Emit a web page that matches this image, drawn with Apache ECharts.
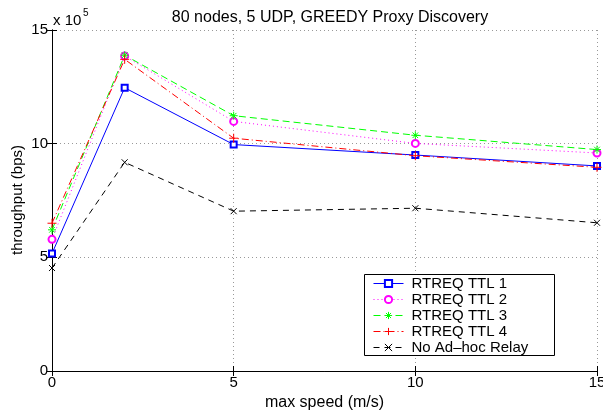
<!DOCTYPE html>
<html>
<head>
<meta charset="utf-8">
<script src="https://cdn.jsdelivr.net/npm/echarts@6/dist/echarts.min.js"></script>
<style>html,body{margin:0;padding:0;background:#fff}#c{width:603px;height:410px}</style>
</head>
<body>
<div id="c"></div>
<script>
// max speed (m/s)
var speeds = [0, 2, 5, 10, 15];
// throughput values in units of 1e5 bps
var ttl1 = [5.17, 12.46, 9.96, 9.50, 9.02];
var ttl2 = [5.79, 13.86, 10.98, 10.01, 9.59];
var ttl3 = [6.21, 13.89, 11.23, 10.37, 9.74];
var ttl4 = [6.50, 13.71, 10.24, 9.47, 8.96];
var noRelay = [4.53, 9.18, 7.03, 7.16, 6.52];
var seriesNames = ['RTREQ TTL 1', 'RTREQ TTL 2', 'RTREQ TTL 3', 'RTREQ TTL 4', 'No Ad\u2013hoc Relay'];
var yTicks = [0, 5, 10, 15];
var xTicks = [0, 5, 10, 15];

function pairs(vals) { return speeds.map(function (s, i) { return [s, vals[i]]; }); }
var FONT = 'Liberation Sans, Arial, Helvetica, sans-serif';

function mk(name, vals, color, ltype, symbol, size) {
  return {
    name: name, type: 'line', data: pairs(vals),
    xAxisIndex: 0, yAxisIndex: 0,
    symbol: symbol, symbolSize: size, showSymbol: true,
    lineStyle: { color: color, width: 1, type: ltype },
    itemStyle: { color: color, borderColor: color, borderWidth: 1 },
    emphasis: { disabled: true },
    animation: false, z: 3
  };
}

var axisCommonX = {
  type: 'value', min: 0, max: 15, interval: 5,
  axisLine: { show: true, lineStyle: { color: '#000', width: 1 } },
  axisTick: { show: true, inside: true, length: 5, lineStyle: { color: '#000' } }
};

var chart = echarts.init(document.getElementById('c'), null, { renderer: 'canvas' });
chart.setOption({
  backgroundColor: '#fff',
  animation: false,
  title: {
    text: '80 nodes, 5 UDP, GREEDY Proxy Discovery',
    left: 325, top: 5, textAlign: 'center',
    textStyle: { fontFamily: FONT, fontSize: 16, fontWeight: 'normal', color: '#000' }
  },
  grid: { left: 52, right: 6, top: 30, bottom: 39, containLabel: false, outerBoundsMode: 'none' },
  xAxis: [
    Object.assign({}, axisCommonX, {
      position: 'bottom',
      name: 'max speed (m/s)', nameLocation: 'middle', nameGap: 16,
      nameTextStyle: { fontFamily: FONT, fontSize: 16, color: '#000' },
      axisLabel: { fontFamily: FONT, fontSize: 15, color: '#000', margin: 4 },
      splitLine: { show: true, lineStyle: { color: '#999', type: [1, 3], width: 1 } }
    }),
    Object.assign({}, axisCommonX, {
      position: 'top', axisLabel: { show: false }, splitLine: { show: false }
    })
  ],
  yAxis: [
    {
      type: 'value', min: 0, max: 15, interval: 5, position: 'left',
      axisLine: { show: true, lineStyle: { color: '#000', width: 1 } },
      axisTick: { show: true, inside: true, length: 5, lineStyle: { color: '#000' } },
      axisLabel: { fontFamily: FONT, fontSize: 15, color: '#000', margin: 4,
        formatter: function (v) { return yTicks.indexOf(v) >= 0 ? String(v) : ''; } },
      splitLine: { show: true, lineStyle: { color: '#999', type: [1, 3], width: 1 } }
    },
    {
      type: 'value', min: 0, max: 15, interval: 5, position: 'right',
      axisLine: { show: true, lineStyle: { color: '#000', width: 1 } },
      axisTick: { show: true, inside: true, length: 5, lineStyle: { color: '#000' } },
      axisLabel: { show: false }, splitLine: { show: false }
    }
  ],
  legend: {
    orient: 'vertical', left: 373, top: 276, z: 10,
    itemWidth: 30, itemHeight: 9, itemGap: 1,
    padding: 0,
    lineStyle: { width: 1 },
    itemStyle: { borderWidth: 1 },
    textStyle: { fontFamily: FONT, fontSize: 15, lineHeight: 14, color: '#000', padding: [0, 0, 0, 3] },
    data: seriesNames
  },
  graphic: [
    { type: 'rect', z: 8, shape: { x: 364.5, y: 274.5, width: 190, height: 81 },
      style: { fill: '#fff', stroke: '#000', lineWidth: 1 } },
    { type: 'text', z: 8, left: 53, top: 13,
      style: { text: 'x 10', fontFamily: FONT, fontSize: 15, fill: '#000' } },
    { type: 'text', z: 8, left: 83, top: 8,
      style: { text: '5', fontFamily: FONT, fontSize: 10, fill: '#000' } },
    { type: 'text', z: 8, x: 18, y: 200, rotation: Math.PI / 2,
      style: { text: 'throughput (bps)', fontFamily: FONT, fontSize: 15, fill: '#000',
        align: 'center', verticalAlign: 'middle' } }
  ],
  series: [
    mk(seriesNames[0], ttl1, '#0000ff', 'solid', 'emptyRect', 6),
    mk(seriesNames[1], ttl2, '#ff00ff', [1, 3], 'emptyCircle', 7),
    mk(seriesNames[2], ttl3, '#00ff00', [7, 4], 'path://M5,0L5,10M0,5L10,5M1.5,1.5L8.5,8.5M8.5,1.5L1.5,8.5', 8),
    mk(seriesNames[3], ttl4, '#ff0000', [7, 3, 1, 3], 'path://M5,0L5,10M0,5L10,5', 9),
    mk(seriesNames[4], noRelay, '#000000', [6, 5], 'path://M0,0L10,10M10,0L0,10', 6)
  ]
});
</script>
</body>
</html>
